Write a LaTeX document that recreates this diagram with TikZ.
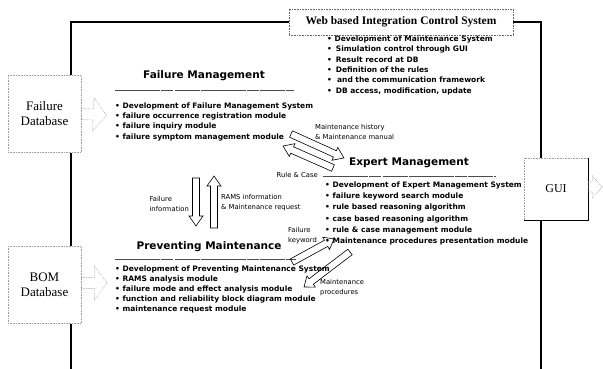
\documentclass[tikz,border=0pt]{standalone}
\usepackage{fontspec}
\setmainfont{Liberation Serif}
\newfontfamily\dvs{DejaVu Sans}
\usetikzlibrary{calc}

% hollow block arrow: [style]{tail}{tip}{half shaft}{half head}{head length}
\newcommand\blockarrow[6][]{%
  \coordinate (ba-h) at ($(#3)!#6!(#2)$);
  \draw[#1] ($(#2)!#4!90:(#3)$) -- ($(ba-h)!#4!90:(#3)$) -- ($(ba-h)!#5!90:(#3)$)
    -- (#3) -- ($(ba-h)!#5!-90:(#3)$) -- ($(ba-h)!#4!-90:(#3)$)
    -- ($(#2)!#4!-90:(#3)$) -- cycle;
}

\tikzset{
  frame/.style={line width=2.2pt, black},
  dbbox/.style={draw=gray!75, densely dotted, line width=0.6pt, minimum width=73pt,
    minimum height=77pt, inner sep=0pt, align=center,
    font=\fontsize{13}{15}\selectfont},
  guibox/.style={draw=gray!75, densely dotted, line width=0.6pt, minimum width=64pt,
    minimum height=62pt, inner sep=0pt, font=\fontsize{12}{14}\selectfont},
  titlebox/.style={draw=gray!80!black, densely dotted, line width=0.6pt, minimum width=224pt,
    minimum height=26pt, inner sep=0pt, font=\bfseries\fontsize{11.5}{13}\selectfont},
  heading/.style={inner sep=0pt, font=\dvs\bfseries\fontsize{10.5}{12}\selectfont},
  itemlist/.style={anchor=north west, inner sep=0pt, align=left},
  lbl/.style={inner sep=0pt, align=left, font=\dvs\fontsize{6.8}{10}\selectfont},
  uline/.style={draw=black!70, line width=0.8pt, dash pattern=on 45pt off 1pt on 12pt off 1.5pt on 25pt off 1pt},
  dbarrow/.style={draw=gray!80, densely dotted, line width=0.6pt},
  flowarrow/.style={draw=black, line width=0.6pt, line join=miter},
}

\begin{document}
\begin{tikzpicture}[x=1pt, y=-1pt]
\useasboundingbox (0,0) rectangle (603,369);

% boxes
\node[titlebox] (title) at (401,22) {Web based Integration Control System};
\node[dbbox] (faildb) at (44.5,114) {Failure\\Database};
\node[dbbox] (bomdb) at (44.5,285) {BOM\\Database};
\node[guibox] (gui) at (556,189) {GUI};
\draw[black, line width=0.9pt] (gui.north east) -- (gui.south east) -- (gui.south west);

% outer frame of the integration system
\coordinate (ftl) at (71,22);
\coordinate (ftr) at (541,22);
\coordinate (fbl) at (71,369);
\coordinate (fbr) at (541,369);
\draw[frame] (title.west) -| (faildb.north -| ftl);
\draw[frame] (faildb.south -| ftl) -- (bomdb.north -| ftl);
\draw[frame] (bomdb.south -| ftl) -- (fbl);
\draw[frame] (title.east) -| (gui.north -| ftr);
\draw[frame] (gui.south -| ftr) -- (fbr);

% web system items
\node[itemlist, font=\dvs\bfseries\fontsize{7.5}{10.4}\selectfont] (weblist) at (327,35.5) {%
  • Development of Maintenance System\\
  •\, Simulation control through GUI\\
  •\, Result record at DB\\
  •\, Definition of the rules\\
  •\,\, and the communication framework\\
  •\, DB access, modification, update};

% failure management
\node[heading] (fmtitle) at (204,76) {Failure Management};
\draw[uline] (115,90) -- (294,90);
\node[itemlist, font=\dvs\bfseries\fontsize{7.5}{10.3}\selectfont] (fmlist) at (115,102.5) {%
  • Development of Failure Management System\\
  • failure occurrence registration module\\
  • failure inquiry module\\
  • failure symptom management module};

% expert management
\node[heading] (emtitle) at (409,163) {Expert Management};
\draw[uline] (323,176) -- (496,176);
\node[itemlist, font=\dvs\bfseries\fontsize{7.5}{11.3}\selectfont] (emlist) at (325,181.5) {%
  • Development of Expert Management System\\
  • failure keyword search module\\
  • rule based reasoning algorithm\\
  • case based reasoning algorithm\\
  • rule \& case management module\\
  • Maintenance procedures presentation module};

% preventing maintenance
\node[heading] (pmtitle) at (209,247) {Preventing Maintenance};
\draw[uline] (115,259) -- (296,259);
\node[itemlist, font=\dvs\bfseries\fontsize{7.5}{10}\selectfont] (pmlist) at (115,265.5) {%
  • Development of Preventing Maintenance System\\
  • RAMS analysis module\\
  • failure mode and effect analysis module\\
  • function and reliability block diagram module\\
  • maintenance request module};

% database and GUI arrows
\coordinate (fdb-tip) at ($(faildb.east)+(25,1)$);
\blockarrow[dbarrow]{faildb.east}{fdb-tip}{5.5pt}{17pt}{13pt}
\coordinate (bdb-tip) at ($(bomdb.east)+(26,-2)$);
\blockarrow[dbarrow]{$(bomdb.east)+(0,-2)$}{bdb-tip}{5.5pt}{17pt}{13pt}
\coordinate (gui-tip) at ($(gui.east)+(14,-2)$);
\blockarrow[dbarrow]{$(gui.east)+(0,-2)$}{gui-tip}{5pt}{11pt}{10pt}

% failure <-> expert
\coordinate (hist-t) at (291,134);
\coordinate (hist-h) at (344,158);
\blockarrow[flowarrow]{hist-t}{hist-h}{3.5pt}{7pt}{10pt}
\coordinate (rule-t) at (333,168);
\coordinate (rule-h) at (283,146);
\blockarrow[flowarrow]{rule-t}{rule-h}{3.5pt}{7pt}{10pt}
\node[lbl, anchor=west] (histlbl) at (315,132) {Maintenance history\\\& Maintenance manual};
\node[lbl, anchor=east] (rulelbl) at (318,175) {Rule \& Case};

% failure <-> preventing
\coordinate (finf-t) at (196,178);
\coordinate (finf-h) at (196,226);
\blockarrow[flowarrow]{finf-t}{finf-h}{3.5pt}{7pt}{10pt}
\coordinate (rams-t) at (214,228);
\coordinate (rams-h) at (214,176);
\blockarrow[flowarrow]{rams-t}{rams-h}{3.5pt}{7pt}{10pt}
\node[lbl, anchor=east] (finflbl) at (189,204) {Failure\\information};
\node[lbl, anchor=west] (ramslbl) at (221,203) {RAMS information\\\& Maintenance request};

% expert <-> preventing
\coordinate (fkw-t) at (292,262);
\coordinate (fkw-h) at (334,239);
\blockarrow[flowarrow]{fkw-t}{fkw-h}{3.5pt}{7pt}{9pt}
\coordinate (mproc-t) at (350,252);
\coordinate (mproc-h) at (304,287);
\blockarrow[flowarrow]{mproc-t}{mproc-h}{3.5pt}{7pt}{9pt}
\node[lbl, anchor=west] (fkwlbl) at (288,236) {Failure\\keyword};
\node[lbl, anchor=west] (mproclbl) at (320,288) {Maintenance\\procedures};

\end{tikzpicture}
\end{document}
